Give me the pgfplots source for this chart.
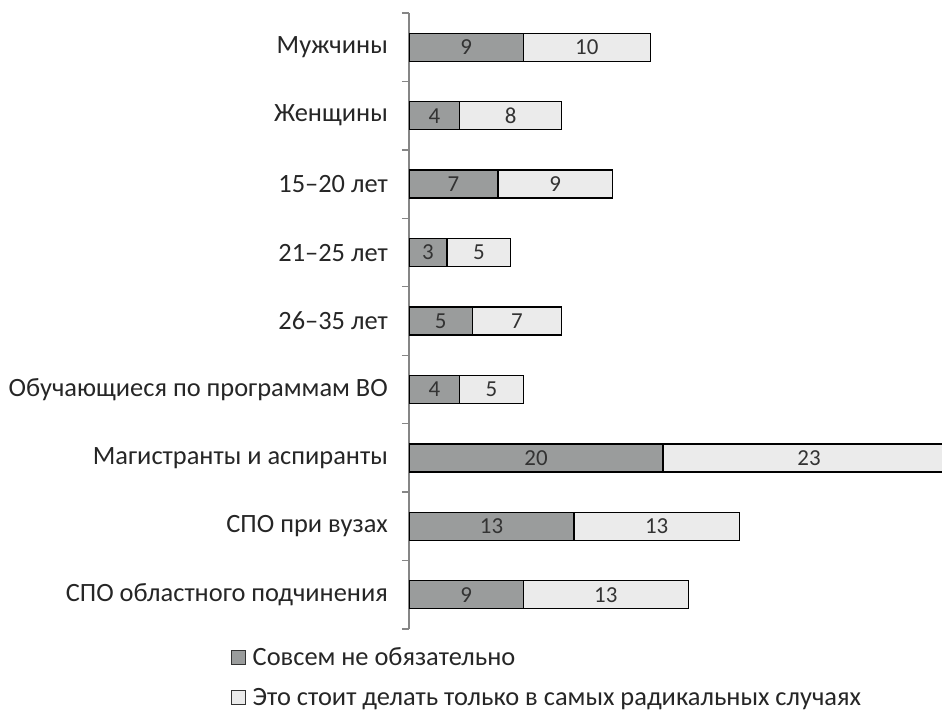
\documentclass[border=0pt]{standalone}
\usepackage{fontspec}
\setmainfont{Carlito}
\usepackage{pgfplots}
\pgfplotsset{compat=1.18}
\definecolor{darkbar}{HTML}{9A9C9C}
\definecolor{lightbar}{HTML}{EBEBEB}
\definecolor{axgray}{HTML}{868686}
\definecolor{numtxt}{HTML}{333333}
\begin{document}
\begin{tikzpicture}
\useasboundingbox (0,0) rectangle (942bp,711bp);
\begin{axis}[
  at={(409bp,82bp)}, anchor=south west,
  scale only axis, width=533.4bp, height=616bp,
  xmin=0, xmax=42, ymin=-0.5, ymax=8.5,
  xbar stacked, bar width=28bp,
  axis x line=none, axis y line*=left,
  ytick={0,...,8},
  yticklabels={СПО областного подчинения, СПО при вузах, Магистранты и аспиранты, Обучающиеся по программам ВО, 26–35 лет, 21–25 лет, 15–20 лет, Женщины, Мужчины},
  major tick length=0pt,
  minor ytick={-0.5,0.5,...,8.5},
  minor tick length=7bp,
  tick align=outside,
  y axis line style={axgray, line width=1.3bp},
  minor tick style={axgray, line width=1.3bp},
  yticklabel style={font=\fontsize{26.5}{30}\selectfont, text=black!85, inner sep=0pt, xshift=-21bp},
  legend style={at={(-0.3337,-0.030)}, anchor=north west, draw=none, inner sep=0pt,
    font=\fontsize{26.5}{30}\selectfont, text=black!85, row sep=21bp,
    cells={anchor=west}, nodes={inner sep=0pt}},
  legend cell align=left,
  legend image code/.code={\draw[#1, draw=black!80, line width=1bp] (0bp,-7bp) rectangle (14bp,7bp); \path[draw=none, fill=none] (0bp,0bp) -- (21bp,0bp);},
]
\addplot[fill=darkbar, draw=black, line width=1.3bp] coordinates {(9,8) (4,7) (7,6) (3,5) (5,4) (4,3) (20,2) (13,1) (9,0)};
\addplot[fill=lightbar, draw=black, line width=1.3bp] coordinates {(10,8) (8,7) (9,6) (5,5) (7,4) (5,3) (23,2) (13,1) (13,0)};
\legend{Совсем не обязательно, Это стоит делать только в самых радикальных случаях}
\end{axis}
\begin{axis}[
  at={(409bp,82bp)}, anchor=south west,
  scale only axis, width=533.4bp, height=616bp,
  xmin=0, xmax=42, ymin=-0.5, ymax=8.5,
  hide axis, clip=false,
]
\addplot[draw=none, mark=none, nodes near coords, point meta=explicit symbolic,
  nodes near coords align=center,
  every node near coord/.append style={font=\fontsize{23}{27}\selectfont, text=numtxt, anchor=center}]
  coordinates {
  (4.5,8)[9] (14,8)[10]
  (2,7)[4] (8,7)[8]
  (3.5,6)[7] (11.5,6)[9]
  (1.5,5)[3] (5.5,5)[5]
  (2.5,4)[5] (8.5,4)[7]
  (2,3)[4] (6.5,3)[5]
  (10,2)[20] (31.5,2)[23]
  (6.5,1)[13] (19.5,1)[13]
  (4.5,0)[9] (15.5,0)[13]
  };
\end{axis}
\end{tikzpicture}
\end{document}
